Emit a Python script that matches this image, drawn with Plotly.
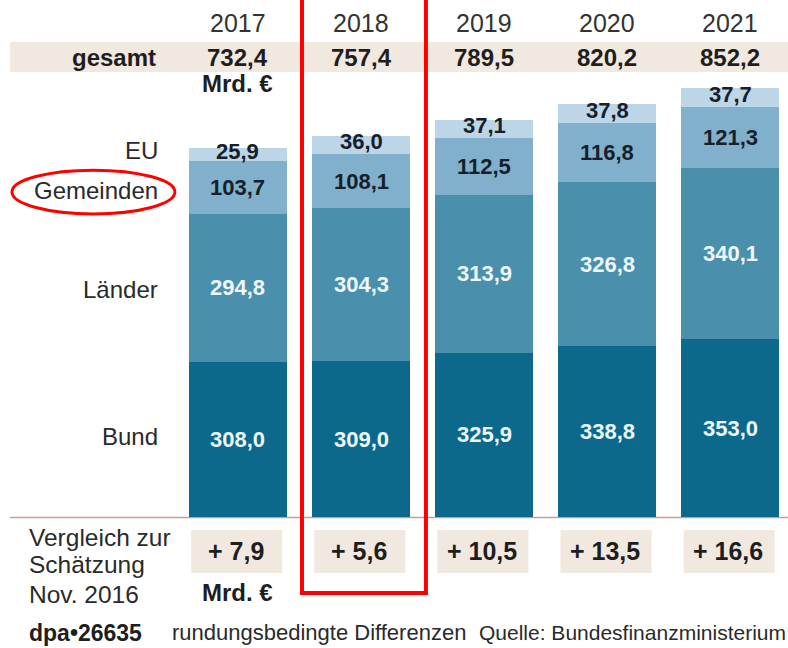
import plotly.graph_objects as go

years = ["2017", "2018", "2019", "2020", "2021"]
bund = [308.0, 309.0, 325.9, 338.8, 353.0]
laender = [294.8, 304.3, 313.9, 326.8, 340.1]
gemeinden = [103.7, 108.1, 112.5, 116.8, 121.3]
eu = [25.9, 36.0, 37.1, 37.8, 37.7]
gesamt = [732.4, 757.4, 789.5, 820.2, 852.2]
vergleich = [7.9, 5.6, 10.5, 13.5, 16.6]
series_names = ["Bund", "Länder", "Gemeinden", "EU"]
vergleich_lines = ["Vergleich zur", "Schätzung", "Nov. 2016"]
footer_texts = ["<b>dpa•26635</b>", "rundungsbedingte Differenzen", "Quelle: Bundesfinanzministerium"]

series_colors = ["#0c698c", "#4a90ac", "#80b0cb", "#bcd5e7"]
text_colors = ["#eef7fb", "#eef7fb", "#15202b", "#15202b"]

FONT = "Liberation Sans, Arial, sans-serif"
DARK = "#1e1e1e"
BEIGE = "#f1e8df"


def de(v):
    return f"{v:.1f}".replace(".", ",")


series = [bund, laender, gemeinden, eu]
pos = list(range(len(years)))

fig = go.Figure()
for name, vals, col in zip(series_names, series, series_colors):
    fig.add_trace(go.Bar(x=pos, y=vals, name=name, marker=dict(color=col, line=dict(width=0)),
                         width=0.796, showlegend=False, hoverinfo="skip"))

ann = []
# segment value labels
for i in pos:
    base = 0.0
    for k, vals in enumerate(series):
        mid = base + vals[i] / 2
        ann.append(dict(x=i, y=mid, text=f"<b>{de(vals[i])}</b>", showarrow=False,
                        yshift=3 if k == 3 else 0,
                        font=dict(family=FONT, size=22, color=text_colors[k])))
        base += vals[i]

# left series labels
label_y = [159, 451, 648, 729]
for name, yy in zip(series_names, label_y):
    ann.append(dict(x=-0.634, y=yy, text=name, showarrow=False, xanchor="right",
                    font=dict(family=FONT, size=24, color="#2a2a2a")))

# header: years and totals; comparison values
for i in pos:
    ann.append(dict(x=i, y=981, text=years[i], showarrow=False,
                    font=dict(family=FONT, size=25, color="#333333")))
    ann.append(dict(x=i, y=913, text=f"<b>{de(gesamt[i])}</b>", showarrow=False,
                    font=dict(family=FONT, size=24, color=DARK)))
    ann.append(dict(x=i - 0.02, y=-67.5, text=f"<b>+ {de(vergleich[i])}</b>", showarrow=False,
                    font=dict(family=FONT, size=25, color=DARK)))

ann.append(dict(x=-0.65, y=913, text="<b>gesamt</b>", showarrow=False, xanchor="right",
                font=dict(family=FONT, size=24, color=DARK)))
ann.append(dict(x=0, y=861, text="<b>Mrd. €</b>", showarrow=False,
                font=dict(family=FONT, size=24, color=DARK)))
ann.append(dict(x=0, y=-149, text="<b>Mrd. €</b>", showarrow=False,
                font=dict(family=FONT, size=24, color=DARK)))
for txt, yy in zip(vergleich_lines, [-40, -95, -153]):
    ann.append(dict(x=-1.714, y=yy, text=txt, showarrow=False, xanchor="left",
                    font=dict(family=FONT, size=24.5, color="#2a2a2a")))
# footer
footer_x = [-1.714, -0.553, 1.940]
footer_sizes = [23, 22, 21]
for txt, xx, sz in zip(footer_texts, footer_x, footer_sizes):
    ann.append(dict(x=xx, y=-230, text=txt, showarrow=False, xanchor="left",
                    font=dict(family=FONT, size=sz, color=DARK if txt.startswith("<b>") else "#2a2a2a")))

shapes = []
# header band
shapes.append(dict(type="rect", xref="x", yref="y", x0=-1.852, x1=4.5, y0=884, y1=943.6,
                   fillcolor=BEIGE, line=dict(width=0), layer="below"))
# comparison boxes
for i in pos:
    shapes.append(dict(type="rect", xref="x", yref="y", x0=i - 0.38, x1=i + 0.36, y0=-111, y1=-26,
                       fillcolor=BEIGE, line=dict(width=0), layer="below"))
# baseline
shapes.append(dict(type="line", xref="x", yref="y", x0=-1.852, x1=4.5, y0=-1, y1=-1,
                   line=dict(color="#cf9a96", width=1.5), layer="below"))
# red highlight rectangle around 2018
shapes.append(dict(type="rect", xref="x", yref="y", x0=0.52, x1=1.527, y0=-151, y1=1060,
                   line=dict(color="#ff0000", width=4), fillcolor="rgba(0,0,0,0)", layer="above"))
# red ellipse around "Gemeinden"
shapes.append(dict(type="circle", xref="x", yref="y", x0=-1.836, x1=-0.512, y0=602, y1=689,
                   line=dict(color="#ff0000", width=3), fillcolor="rgba(0,0,0,0)", layer="above"))

fig.update_layout(
    width=788, height=648, barmode="stack", bargap=0,
    margin=dict(l=0, r=0, t=0, b=0),
    paper_bgcolor="white", plot_bgcolor="white",
    xaxis=dict(range=[-1.933, 4.468], visible=False, fixedrange=True),
    yaxis=dict(range=[-260.2, 1027.0], visible=False, fixedrange=True),
    annotations=ann, shapes=shapes,
)

fig.write_html("out.html",
               config={"displayModeBar": False, "staticPlot": True},
               post_script="document.body.style.margin='0';document.body.style.padding='0';"
                           "document.body.style.overflow='hidden';")
